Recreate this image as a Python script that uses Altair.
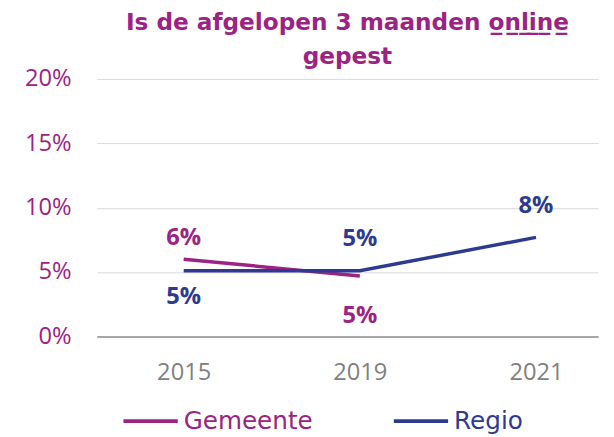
import altair as alt
import pandas as pd

# ---- data ----
years = ["2015", "2019", "2021"]
gemeente = [0.060, 0.047, None]
regio = [0.051, 0.051, 0.077]
series_names = ["Gemeente", "Regio"]
series_colors = ["#9B2383", "#2E3A8F"]
y_ticks = [0, 0.05, 0.10, 0.15, 0.20]
title_lines = ["Is de afgelopen 3 maanden o\u0332n\u0332l\u0332i\u0332n\u0332e\u0332", "gepest"]

rows = []
for name, vals in zip(series_names, [gemeente, regio]):
    for yr, v in zip(years, vals):
        if v is not None:
            rows.append({"jaar": yr, "reeks": name, "waarde": v})
df = pd.DataFrame(rows)
# label goes above the line for the highest value of a year, below otherwise
df["maxjaar"] = df.groupby("jaar")["waarde"].transform("max")
df["plaats"] = (df["waarde"] == df["maxjaar"]).map({True: "boven", False: "onder"})

PURPLE = series_colors[0]
NUM_FONT = "Open Sans"
TXT_FONT = "DejaVu Sans"

color_scale = alt.Scale(domain=series_names, range=series_colors)
color = alt.Color(
    "reeks:N",
    scale=color_scale,
    legend=alt.Legend(
        title=None,
        orient="none",
        legendX=25,
        legendY=317,
        direction="horizontal",
        symbolType="stroke",
        symbolSize=3025,
        symbolStrokeWidth=4,
        labelFont=TXT_FONT,
        labelFontSize=25,
        labelOffset=4,
        columnPadding=74,
        labelColor={"expr": f"datum.label == 'Gemeente' ? '{series_colors[0]}' : '{series_colors[1]}'"},
    ),
)

x = alt.X(
    "jaar:O",
    sort=years,
    scale=alt.Scale(type="point", padding=0.423, align=0.583),
    axis=alt.Axis(
        title=None,
        labelAngle=0,
        labelFont=NUM_FONT,
        labelFontSize=24,
        labelColor="#808080",
        labelPadding=25,
        ticks=False,
        grid=False,
        domainColor="#a6a6a6",
        domainWidth=2,
    ),
)
y = alt.Y(
    "waarde:Q",
    scale=alt.Scale(domain=[0, 0.2]),
    axis=alt.Axis(
        title=None,
        values=y_ticks,
        format=".0%",
        labelFont=NUM_FONT,
        labelFontSize=24,
        labelColor=PURPLE,
        labelPadding=26,
        ticks=False,
        domain=False,
        gridColor="#d9d9d9",
        gridWidth=1,
    ),
)

base = alt.Chart(df)
lines = base.mark_line(strokeWidth=3.5).encode(x=x, y=y, color=color)

# label offsets per series (above / below the line)
label_dy = {
    ("Gemeente", "boven"): -21,
    ("Gemeente", "onder"): 41,
    ("Regio", "boven"): -32,
    ("Regio", "onder"): 27,
}

def labels(series, where, dy):
    return (
        base.transform_filter((alt.datum.plaats == where) & (alt.datum.reeks == series))
        .mark_text(font=NUM_FONT, fontSize=24, fontWeight="bold", dy=dy)
        .encode(
            x="jaar:O",
            y="waarde:Q",
            text=alt.Text("waarde:Q", format=".0%"),
            color=alt.Color("reeks:N", scale=color_scale, legend=None),
        )
    )

label_layers = [labels(s, w, d) for (s, w), d in label_dy.items()]

chart = (
    alt.layer(lines, *label_layers)
    .properties(
        width=508,
        height=261,
        autosize=alt.AutoSizeParams(type="none"),
        padding={"left": 90, "top": 69, "right": 8, "bottom": 100},
        title=alt.TitleParams(
            text=title_lines,
            font=TXT_FONT,
            fontSize=23.5,
            fontWeight="bold",
            color=PURPLE,
            anchor="middle",
            frame="group",
            baseline="alphabetic",
            offset=22,
            dy=42,
            lineHeight=34,
        ),
    )
    .configure_view(stroke=None)
)

chart.save("out.html", embed_options={"renderer": "svg", "actions": False})
